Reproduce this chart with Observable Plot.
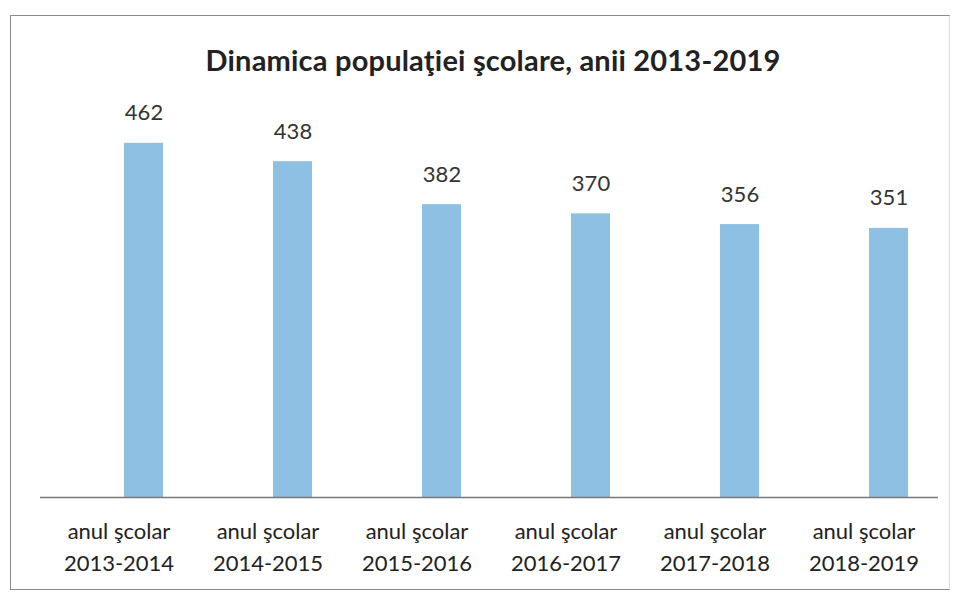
<!DOCTYPE html>
<html>
<head>
<meta charset="utf-8">
<script src="https://cdn.jsdelivr.net/npm/d3@7"></script>
<script src="https://cdn.jsdelivr.net/npm/@observablehq/plot@0.6"></script>
<style>
  html, body { margin: 0; padding: 0; background: #fff; }
  #wrap { position: relative; width: 958px; height: 594px; overflow: hidden; background: #fff; }
  #frame { position: absolute; left: 10px; top: 15px; width: 940px; height: 575px; border: 1px solid #8a8a8a; box-sizing: border-box; border-right-color: #ddd; }
  #title { position: absolute; left: 0; width: 986px; top: 42px; text-align: center; font-family: Lato, "Open Sans", sans-serif; font-weight: bold; font-size: 29px; color: #222; white-space: nowrap; letter-spacing: 0.2px; }
  #chart { position: absolute; left: 0; top: 0; }
</style>
</head>
<body>
<div id="wrap">
  <div id="frame"></div>
  <div id="title">Dinamica populaţiei şcolare, anii 2013-2019</div>
  <div id="chart"></div>
</div>
<script>
const categories = ["anul şcolar\n2013-2014", "anul şcolar\n2014-2015", "anul şcolar\n2015-2016", "anul şcolar\n2016-2017", "anul şcolar\n2017-2018", "anul şcolar\n2018-2019"];
const values = [462, 438, 382, 370, 356, 351];

const data = categories.map((c, i) => ({category: c, value: values[i]}));

const chart = Plot.plot({
  width: 958,
  height: 594,
  marginLeft: 40,
  marginRight: 20,
  marginTop: 129,
  marginBottom: 97,
  style: {fontFamily: "Lato, 'Open Sans', sans-serif", background: "transparent"},
  x: {domain: categories, paddingInner: 0.739, paddingOuter: 0.371, align: 0.734, label: null},
  y: {domain: [0, 480], axis: null},
  marks: [
    Plot.barY(data, {x: "category", y: "value", fill: "#8ec0e4"}),
    Plot.ruleY([0], {stroke: "#777", strokeWidth: 1.5}),
    Plot.text(data, {x: "category", y: "value", text: d => String(d.value), dy: -30, fontSize: 22, fill: "#333"}),
    Plot.axisX({tickSize: 0, tickPadding: 19, fontSize: 22, dx: -25, lineHeight: 1.45, fill: "#222", label: null})
  ]
});
document.getElementById("chart").appendChild(chart);
</script>
</body>
</html>
